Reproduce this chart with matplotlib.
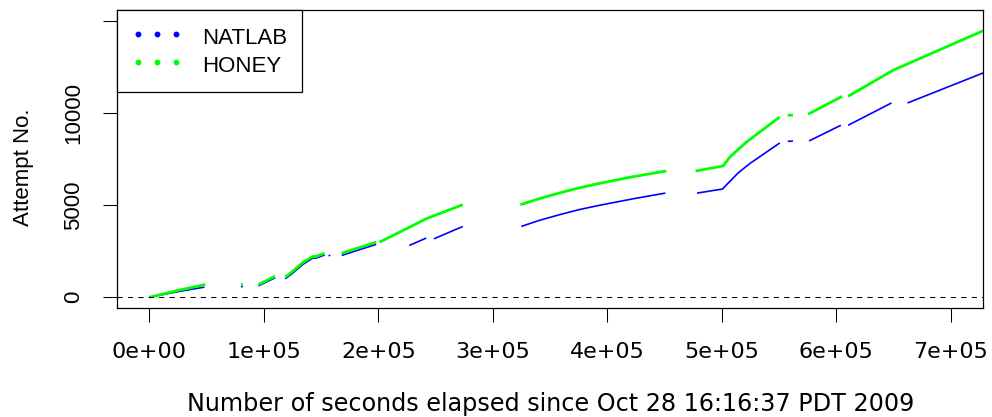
import numpy as np
import matplotlib
matplotlib.use("Agg")
import matplotlib.pyplot as plt
from matplotlib.lines import Line2D
from matplotlib.legend_handler import HandlerLine2D
from matplotlib.ticker import FixedLocator

nan = np.nan

# HONEY series (seconds elapsed, attempt no.), NaN separates gaps
honey_x = [0, 24500, 48900, nan,
           80100, 81600, nan,
           95300, 109800, nan,
           118600, 125000, 134000, 142700, 145700, 153000, nan,
           168000, 198100, nan,
           201000, 218500, 241800, 273700, nan,
           324000, 340000, 358300, 375000, 393200, 422400, 451500, nan,
           477000, 501000, 507000, 521400, 550500, nan,
           557500, 562000, nan,
           575300, 605000, nan,
           610200, 649600, 728200]
honey_y = [0, 364, 690, nan,
           680, 720, nan,
           690, 1140, nan,
           1090, 1400, 1880, 2210, 2212, 2390, nan,
           2390, 2990, nan,
           2990, 3530, 4260, 5020, nan,
           5020, 5340, 5660, 5930, 6180, 6540, 6850, nan,
           6850, 7120, 7610, 8420, 9780, nan,
           9870, 9880, nan,
           9930, 10900, nan,
           10900, 12320, 14460]

# NATLAB series
natlab_x = [0, 24500, 48100, nan,
            80100, 81600, nan,
            95300, 109800, nan,
            118600, 125000, 134000, 142700, 145700, 153000, nan,
            156500, 158000, nan,
            168000, 198100, nan,
            227000, 241800, nan,
            248500, 273700, nan,
            324800, 340000, 358300, 375000, 393200, 422400, 450600, nan,
            478300, 500400, 514100, 524300, 550500, nan,
            557500, 562000, nan,
            576100, 603900, nan,
            610200, 648100, nan,
            662100, 728200]
natlab_y = [0, 300, 550, nan,
            560, 600, nan,
            620, 1060, nan,
            1000, 1300, 1780, 2120, 2130, 2290, nan,
            2250, 2280, nan,
            2270, 2870, nan,
            2810, 3210, nan,
            3170, 3840, nan,
            3840, 4160, 4480, 4750, 4990, 5340, 5650, nan,
            5650, 5870, 6740, 7250, 8370, nan,
            8460, 8470, nan,
            8480, 9330, nan,
            9330, 10540, nan,
            10540, 12170]

series_names = ["NATLAB", "HONEY"]
series_colors = ["#0000FF", "#00FF00"]

x_ticks = [0, 100000, 200000, 300000, 400000, 500000, 600000, 700000]
x_tick_labels = ["0e+00", "1e+05", "2e+05", "3e+05", "4e+05", "5e+05", "6e+05", "7e+05"]
y_ticks = [0, 5000, 10000, 15000]
y_tick_labels = ["0", "5000", "10000", ""]

plt.rcParams['font.family'] = ['Liberation Sans', 'DejaVu Sans']
FS = 16
WIDE = ['DejaVu Sans']

fig = plt.figure(figsize=(9.92, 4.17), dpi=100)
ax = fig.add_axes([117.3/992, 1 - 308.3/417, (983 - 117.3)/992, (308.3 - 9.7)/417])

ax.plot(natlab_x, natlab_y, color=series_colors[0], lw=1.2, solid_capstyle='butt')
ax.plot(honey_x, honey_y, color=series_colors[1], lw=2.0, solid_capstyle='butt')
ax.axhline(0, color='black', lw=0.75, dashes=(5, 5))

ax.set_xlim(-28000, 728000)
ax.set_ylim(-600, 15600)

ax.xaxis.set_major_locator(FixedLocator(x_ticks))
ax.set_xticklabels(x_tick_labels, family=WIDE, fontsize=FS)
ax.yaxis.set_major_locator(FixedLocator(y_ticks))
ax.set_yticklabels(y_tick_labels, rotation=90, va='center', fontsize=FS)

ax.tick_params(axis='both', direction='out', length=10, width=0.75,
               pad=14, colors='black')
for s in ax.spines.values():
    s.set_linewidth(0.9)
    s.set_color('black')

fig.text((117.3 + 983) / 2 / 992, 1 - 404 / 417,
         "Number of seconds elapsed since Oct 28 16:16:37 PDT 2009",
         ha='center', va='center', fontsize=17.2, family=WIDE)
fig.text(24 / 992, 1 - 167 / 417, "Attempt No.", rotation=90,
         ha='center', va='center', fontsize=FS)

handles = [Line2D([], [], color=c, marker='o', markersize=3.2, linestyle='none')
           for c in series_colors]
leg = ax.legend(handles, series_names, loc='upper left', bbox_to_anchor=(0, 1),
                borderaxespad=0, numpoints=3, fontsize=FS, fancybox=False,
                frameon=True, borderpad=0.69, handlelength=2.2, handleheight=1.2,
                handletextpad=0.91, labelspacing=0.17,
                handler_map={Line2D: HandlerLine2D(marker_pad=0.243)})
leg.get_frame().set_edgecolor('black')
leg.get_frame().set_linewidth(0.9)
leg.get_frame().set_alpha(1)

fig.savefig("out.png", dpi=100)
